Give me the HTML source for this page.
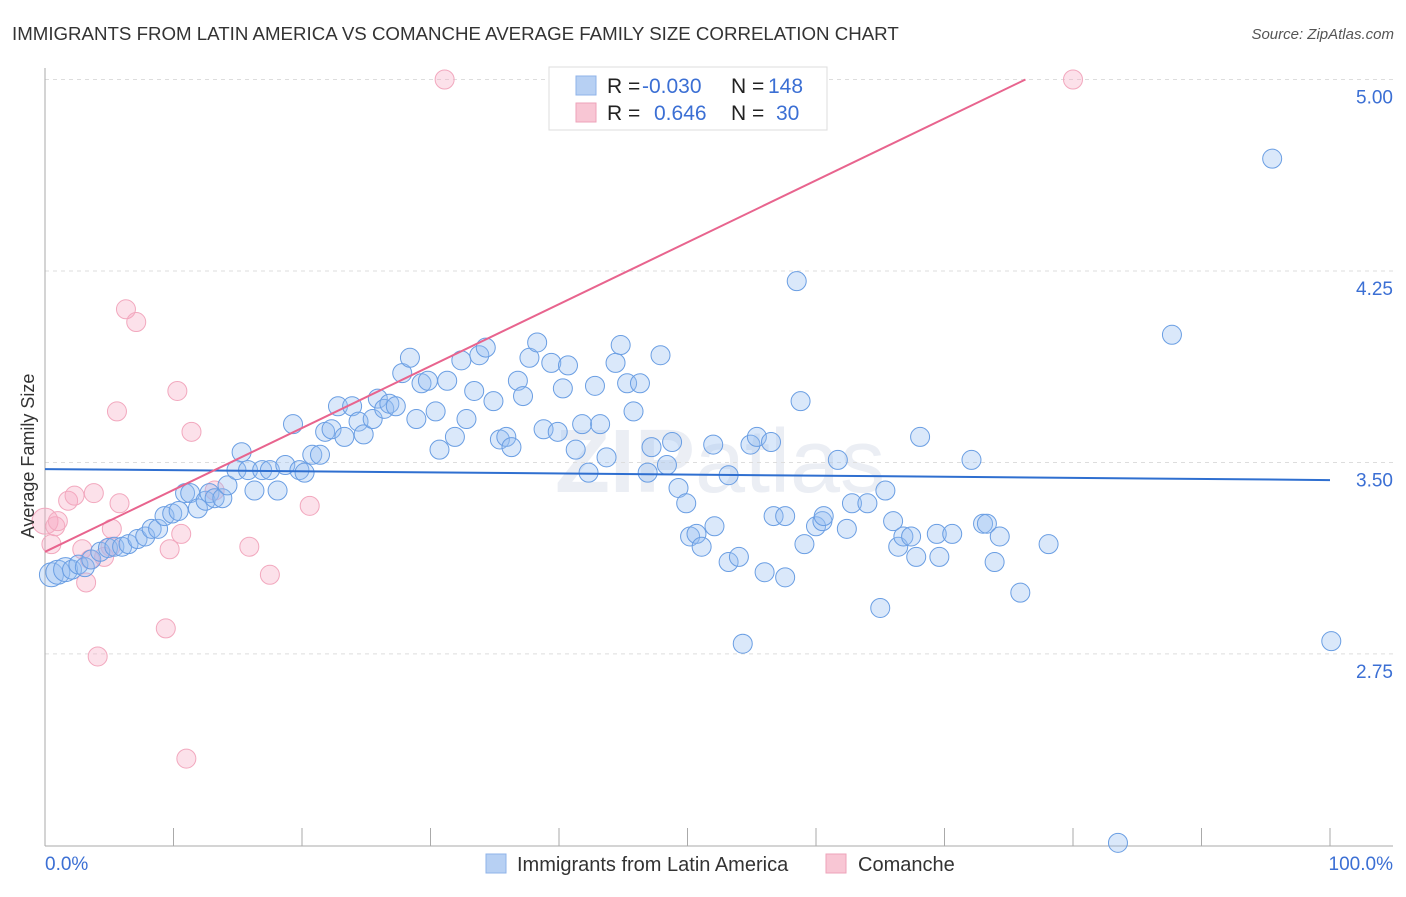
<!DOCTYPE html>
<html><head><meta charset="utf-8"><style>
body{margin:0;background:#fff;font-family:"Liberation Sans",sans-serif;}
svg text{font-family:"Liberation Sans",sans-serif;}
</style></head><body>
<svg id="c" width="1406" height="892" xmlns="http://www.w3.org/2000/svg">
<text x="12" y="40" font-size="18.7" fill="#333">IMMIGRANTS FROM LATIN AMERICA VS COMANCHE AVERAGE FAMILY SIZE CORRELATION CHART</text>
<text x="1394" y="39" font-size="15" fill="#555" font-style="italic" text-anchor="end">Source: ZipAtlas.com</text>
<text x="720" y="492" font-size="90" fill="#ebeef4" text-anchor="middle" font-weight="bold">ZIP<tspan font-weight="normal">atlas</tspan></text>
<g id="grid"></g>
<g id="axes"></g>
<g id="pts"></g>
<g id="trend"></g>
<text transform="translate(34,456) rotate(-90)" font-size="18" fill="#333" text-anchor="middle">Average Family Size</text>
<g>
<rect x="549" y="67" width="278" height="63" fill="#fff" stroke="#ddd"/>
<rect x="576" y="76" width="20" height="19" fill="#b7d0f3" stroke="#8fb3e8"/>
<rect x="576" y="103" width="20" height="19" fill="#f8c6d4" stroke="#eea3ba"/>
<text x="607" y="93" font-size="21" fill="#222">R = <tspan x="642" fill="#3b6fd4">-0.030</tspan><tspan x="731">N = </tspan><tspan x="768" fill="#3b6fd4">148</tspan></text>
<text x="607" y="120" font-size="21" fill="#222">R = <tspan x="654" fill="#3b6fd4">0.646</tspan><tspan x="731">N = </tspan><tspan x="776" fill="#3b6fd4">30</tspan></text>
</g>
<g>
<rect x="486" y="854" width="20" height="19" fill="#b7d0f3" stroke="#8fb3e8"/>
<text x="517" y="871" font-size="20" fill="#333">Immigrants from Latin America</text>
<rect x="826" y="854" width="20" height="19" fill="#f8c6d4" stroke="#eea3ba"/>
<text x="858" y="871" font-size="20" fill="#333">Comanche</text>
</g>
</svg>
<script>
const yTicks=[5.00,4.25,3.50,2.75];
const yTickLabels=["5.00","4.25","3.50","2.75"];
const xTickLabels=["0.0%","100.0%"];
const blueX=[0.5,1.0,1.6,2.1,2.6,3.1,3.6,4.3,4.9,5.4,6.0,6.5,7.2,7.8,8.3,8.8,9.3,9.9,10.4,10.9,11.3,11.9,12.5,12.8,13.2,13.8,14.2,14.9,15.3,15.8,16.3,16.9,17.5,18.1,18.7,19.3,19.8,20.2,20.8,21.4,21.8,22.3,22.8,23.3,23.9,24.4,24.8,25.5,25.9,26.4,26.8,27.3,27.8,28.4,28.9,29.3,29.8,30.4,30.7,31.3,31.9,32.4,32.8,33.4,33.8,34.3,34.9,35.4,35.9,36.3,36.8,37.2,37.7,38.3,38.8,39.4,39.9,40.3,40.7,41.3,41.8,42.3,42.8,43.2,43.7,44.4,44.8,45.3,45.8,46.3,46.9,47.2,47.9,48.4,48.8,49.3,49.9,50.2,50.7,51.1,52.0,52.1,53.2,53.2,54.0,54.3,54.9,55.4,56.0,56.5,56.7,57.6,57.6,58.5,58.8,59.1,60.0,60.5,60.6,61.7,62.4,62.8,64.0,65.0,65.4,66.0,66.4,66.8,67.4,67.8,68.1,69.4,69.6,70.6,72.1,73.0,73.3,73.9,74.3,75.9,78.1,83.5,87.7,95.5,100.1];
const blueY=[3.06,3.07,3.08,3.08,3.10,3.09,3.12,3.15,3.165,3.17,3.17,3.18,3.20,3.21,3.24,3.24,3.29,3.30,3.31,3.38,3.38,3.32,3.35,3.38,3.36,3.36,3.41,3.47,3.54,3.47,3.39,3.47,3.47,3.39,3.49,3.65,3.47,3.46,3.53,3.53,3.62,3.63,3.72,3.60,3.72,3.66,3.61,3.67,3.75,3.71,3.73,3.72,3.85,3.91,3.67,3.81,3.82,3.70,3.55,3.82,3.60,3.90,3.67,3.78,3.92,3.95,3.74,3.59,3.60,3.56,3.82,3.76,3.91,3.97,3.63,3.89,3.62,3.79,3.88,3.55,3.65,3.46,3.80,3.65,3.52,3.89,3.96,3.81,3.70,3.81,3.46,3.56,3.92,3.49,3.58,3.40,3.34,3.21,3.22,3.17,3.57,3.25,3.45,3.11,3.13,2.79,3.57,3.60,3.07,3.58,3.29,3.29,3.05,4.21,3.74,3.18,3.25,3.27,3.29,3.51,3.24,3.34,3.34,2.93,3.39,3.27,3.17,3.21,3.21,3.13,3.60,3.22,3.13,3.22,3.51,3.26,3.26,3.11,3.21,2.99,3.18,2.01,4.00,4.69,2.80];
const pinkX=[0,0.5,0.8,1.0,1.8,2.3,2.9,3.2,3.5,3.8,4.1,4.6,5.2,5.6,5.8,6.3,7.1,9.7,9.4,10.3,10.6,11.0,11.4,13.2,15.9,17.5,20.6,31.1,80.0,5.1];
const pinkY=[3.27,3.18,3.25,3.27,3.35,3.37,3.16,3.03,3.12,3.38,2.74,3.13,3.24,3.70,3.34,4.10,4.05,3.16,2.85,3.78,3.22,2.34,3.62,3.39,3.17,3.06,3.33,5.00,5.00,3.17];
const blueTrend=[3.474,3.431];
const pinkTrend=[3.15,5.00];
const pinkTrendEndX=[0,76.3];

const NS="http://www.w3.org/2000/svg";
const X=v=>45+v*12.85;
const Y=v=>79.5+(5-v)*255.3;
function mk(tag,attrs,parent){const e=document.createElementNS(NS,tag);for(const k in attrs)e.setAttribute(k,attrs[k]);parent.appendChild(e);return e;}
const grid=document.getElementById('grid'),axes=document.getElementById('axes'),pts=document.getElementById('pts'),trend=document.getElementById('trend');
yTicks.forEach((t,i)=>{
 const l=mk('line',{x1:45,x2:1393,y1:Y(t),y2:Y(t),stroke:'#ddd','stroke-dasharray':'4,4'},grid);
 
 
 const tx=mk('text',{x:1393,y:Y(t)+24,'font-size':19,fill:'#3b6fd4','text-anchor':'end'},axes);
 tx.textContent=yTickLabels[i];
 
 
});
const ya=mk('line',{x1:45,x2:45,y1:68,y2:846,stroke:'#aaa'},axes);


const xa=mk('line',{x1:45,x2:1393,y1:846,y2:846,stroke:'#aaa'},axes);


for(let i=0;i<=10;i++){
 const t=mk('line',{x1:X(i*10),x2:X(i*10),y1:828,y2:846,stroke:'#aaa'},axes);
 
 
}
const xl0=mk('text',{x:45,y:870,'font-size':19,fill:'#3b6fd4'},axes);xl0.textContent=xTickLabels[0];


const xl1=mk('text',{x:1393,y:870,'font-size':19,fill:'#3b6fd4','text-anchor':'end'},axes);xl1.textContent=xTickLabels[1];


pinkX.forEach((x,i)=>{
 const c=mk('circle',{cx:X(x),cy:Y(pinkY[i]),r:i==0?13:9.5,fill:'rgba(246,170,195,0.35)',stroke:'#f2a8be','stroke-width':1},pts);
 
 
});
blueX.forEach((x,i)=>{
 const c=mk('circle',{cx:X(x),cy:Y(blueY[i]),r:i<3?12:9.5,fill:'rgba(150,190,240,0.35)',stroke:'#6a9ee3','stroke-width':1},pts);
 
 
});
const bt=mk('line',{x1:X(0),y1:Y(blueTrend[0]),x2:X(100),y2:Y(blueTrend[1]),stroke:'#2f6fd0','stroke-width':2},trend);


const pt=mk('line',{x1:X(pinkTrendEndX[0]),y1:Y(pinkTrend[0]),x2:X(pinkTrendEndX[1]),y2:Y(pinkTrend[1]),stroke:'#e8648e','stroke-width':2},trend);


</script>
</body></html>
